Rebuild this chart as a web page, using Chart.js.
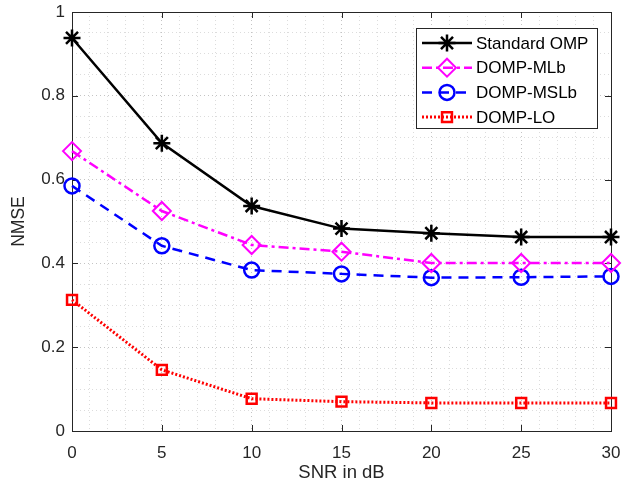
<!DOCTYPE html>
<html>
<head>
<meta charset="utf-8">
<script src="https://cdn.jsdelivr.net/npm/chart.js@4.4.1/dist/chart.umd.min.js"></script>
<style>
  html, body { margin: 0; padding: 0; background: #fff; }
  #wrap { width: 622px; height: 496px; }
</style>
</head>
<body>
<div id="wrap"><canvas id="nmseChart" width="622" height="496"></canvas></div>
<script>
const snr = [0, 5, 10, 15, 20, 25, 30];
const ompStd = [0.938, 0.687, 0.537, 0.483, 0.472, 0.463, 0.463];
const dompMLb = [0.668, 0.525, 0.444, 0.428, 0.401, 0.401, 0.401];
const dompMSLb = [0.585, 0.442, 0.384, 0.375, 0.366, 0.367, 0.369];
const dompLO = [0.313, 0.146, 0.077, 0.070, 0.067, 0.067, 0.067];
const seriesNames = ['Standard OMP', 'DOMP-MLb', 'DOMP-MSLb', 'DOMP-LO'];
const xTicks = [0, 5, 10, 15, 20, 25, 30];
const yTicks = [0, 0.2, 0.4, 0.6, 0.8, 1];

const FONT = 'Liberation Sans, Arial, Helvetica, sans-serif';

function pts(vals) {
    return snr.map((x, i) => ({ x: x, y: vals[i] }));
}

const styles = [
    { color: '#000000', dash: [], width: 2.5, point: 'star', radius: 8.5, pw: 2.5 },
    { color: '#ff00ff', dash: [10, 4, 3, 4], width: 2.5, point: 'rectRot', radius: 9, pw: 2 },
    { color: '#0000ff', dash: [10, 7], width: 2.5, point: 'circle', radius: 7.5, pw: 2.5 },
    { color: '#ff0000', dash: [2, 2], width: 3, point: 'rect', radius: 7, pw: 2.5 }
];

const seriesData = [ompStd, dompMLb, dompMSLb, dompLO];

const datasets = seriesData.map((vals, i) => ({
    label: seriesNames[i],
    data: pts(vals),
    borderColor: styles[i].color,
    backgroundColor: 'rgba(0,0,0,0)',
    borderWidth: styles[i].width,
    borderDash: styles[i].dash,
    pointStyle: styles[i].point,
    pointRadius: styles[i].radius,
    pointBorderWidth: styles[i].pw,
    pointBorderColor: styles[i].color,
    pointBackgroundColor: 'rgba(0,0,0,0)',
    tension: 0,
    fill: false,
    clip: false
}));

// box, inward ticks and the legend drawn like the MATLAB figure
const matlabFrame = {
    id: 'matlabFrame',
    beforeDatasetsDraw(chart) {
        const ctx = chart.ctx;
        const a = chart.chartArea;
        const xs = chart.scales.x, ys = chart.scales.y;
        ctx.save();
        ctx.strokeStyle = '#262626';
        ctx.lineWidth = 1;
        ctx.setLineDash([]);
        ctx.strokeRect(Math.round(a.left) + 0.5, Math.round(a.top) + 0.5,
            Math.round(a.right - a.left), Math.round(a.bottom - a.top));
        ctx.beginPath();
        xTicks.forEach(v => {
            const px = Math.round(xs.getPixelForValue(v)) + 0.5;
            ctx.moveTo(px, a.bottom); ctx.lineTo(px, a.bottom - 6);
            ctx.moveTo(px, a.top); ctx.lineTo(px, a.top + 6);
        });
        yTicks.forEach(v => {
            const py = Math.round(ys.getPixelForValue(v)) + 0.5;
            ctx.moveTo(a.left, py); ctx.lineTo(a.left + 6, py);
            ctx.moveTo(a.right, py); ctx.lineTo(a.right - 6, py);
        });
        ctx.stroke();
        ctx.restore();
    },
    afterDatasetsDraw(chart) {
        const ctx = chart.ctx;
        ctx.save();
        // legend
        const bx = 416.5, by = 28.5, bw = 181, bh = 100;
        ctx.fillStyle = '#fff';
        ctx.fillRect(bx, by, bw, bh);
        ctx.strokeStyle = '#262626';
        ctx.lineWidth = 1;
        ctx.strokeRect(bx, by, bw, bh);
        ctx.font = '17px ' + FONT;
        ctx.textBaseline = 'middle';
        ctx.textAlign = 'left';
        chart.data.datasets.forEach((ds, i) => {
            const y = 43 + i * 24.7;
            ctx.strokeStyle = ds.borderColor;
            ctx.lineWidth = ds.borderWidth;
            ctx.setLineDash(ds.borderDash);
            ctx.beginPath();
            ctx.moveTo(422, y); ctx.lineTo(472, y);
            ctx.stroke();
            ctx.setLineDash([]);
            ctx.lineWidth = ds.pointBorderWidth;
            ctx.fillStyle = 'rgba(0,0,0,0)';
            Chart.helpers.drawPoint(ctx, {
                pointStyle: ds.pointStyle,
                radius: ds.pointRadius,
                rotation: 0,
                borderWidth: ds.pointBorderWidth
            }, 447, y);
            ctx.fillStyle = '#000';
            ctx.fillText(ds.label, 476, y + 1);
        });
        ctx.restore();
    }
};

new Chart(document.getElementById('nmseChart'), {
    type: 'line',
    data: { datasets: datasets },
    options: {
        responsive: false,
        animation: false,
        devicePixelRatio: 1,
        layout: { padding: { top: 12, right: 10, left: 9, bottom: 12 } },
        plugins: {
            legend: { display: false },
            tooltip: { enabled: false }
        },
        scales: {
            x: {
                type: 'linear',
                min: 0,
                max: 30,
                afterFit: s => { s.height = 53; s.paddingLeft = 0; s.paddingRight = 0; },
                border: { display: false, dash: [1, 3] },
                grid: {
                    color: ctx => (ctx.tick && ctx.tick.value % 5 === 0) ? '#c4c4c4' : '#dcdcdc',
                    lineWidth: 1,
                    drawTicks: false
                },
                ticks: {
                    stepSize: 1,
                    autoSkip: false,
                    maxRotation: 0,
                    padding: 12,
                    color: '#262626',
                    font: { family: FONT, size: 17 },
                    callback: v => (v % 5 === 0) ? String(v) : ''
                },
                title: {
                    display: true,
                    text: 'SNR in dB',
                    color: '#262626',
                    font: { family: FONT, size: 18.5 },
                    padding: { top: 2, bottom: 0 }
                }
            },
            y: {
                type: 'linear',
                min: 0,
                max: 1,
                afterFit: s => { s.width = 63; s.paddingTop = 0; s.paddingBottom = 0; },
                border: { display: false, dash: [1, 3] },
                grid: {
                    color: ctx => (ctx.tick && Math.round(ctx.tick.value * 100) % 20 === 0) ? '#c4c4c4' : '#dcdcdc',
                    lineWidth: 1,
                    drawTicks: false
                },
                ticks: {
                    stepSize: 0.05,
                    autoSkip: false,
                    padding: 7,
                    color: '#262626',
                    font: { family: FONT, size: 17 },
                    callback: v => (Math.round(v * 100) % 20 === 0) ? String(Math.round(v * 10) / 10) : ''
                },
                title: {
                    display: true,
                    text: 'NMSE',
                    color: '#262626',
                    font: { family: FONT, size: 17.5 },
                    padding: { top: 0, bottom: 4 }
                }
            }
        }
    },
    plugins: [matlabFrame]
});
</script>
</body>
</html>
